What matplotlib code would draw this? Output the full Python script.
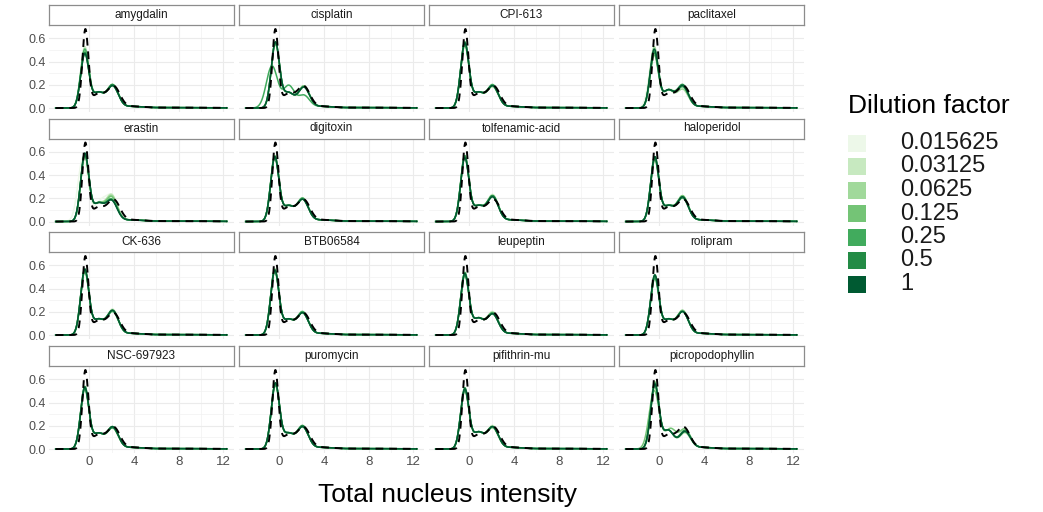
import numpy as np
import matplotlib
matplotlib.use("Agg")
import matplotlib.pyplot as plt
from matplotlib.patches import Rectangle

plt.rcParams['font.family'] = ['Liberation Sans', 'DejaVu Sans']

W, H = 1043, 512

drugs = ["amygdalin", "cisplatin", "CPI-613", "paclitaxel",
         "erastin", "digitoxin", "tolfenamic-acid", "haloperidol",
         "CK-636", "BTB06584", "leupeptin", "rolipram",
         "NSC-697923", "puromycin", "pifithrin-mu", "picropodophyllin"]

dilutions = ["0.015625", "0.03125", "0.0625", "0.125", "0.25", "0.5", "1"]
greens = ["#edf8e9", "#c7e9c0", "#a1d99b", "#74c476", "#41ab5d", "#238b45", "#005a32"]

# peak heights, one value per dilution (lightest -> darkest)
p1_height = [
    [0.50, 0.52, 0.48, 0.46, 0.50, 0.47, 0.46],
    [0.55, 0.56, 0.55, 0.54, 0.36, 0.55, 0.56],
    [0.55, 0.54, 0.56, 0.53, 0.55, 0.56, 0.55],
    [0.48, 0.50, 0.52, 0.45, 0.48, 0.47, 0.50],
    [0.55, 0.57, 0.56, 0.56, 0.57, 0.56, 0.58],
    [0.55, 0.54, 0.55, 0.56, 0.55, 0.54, 0.55],
    [0.55, 0.56, 0.54, 0.55, 0.56, 0.55, 0.54],
    [0.53, 0.55, 0.52, 0.54, 0.55, 0.53, 0.55],
    [0.55, 0.54, 0.56, 0.55, 0.54, 0.55, 0.56],
    [0.55, 0.54, 0.55, 0.56, 0.54, 0.55, 0.55],
    [0.52, 0.53, 0.50, 0.52, 0.53, 0.51, 0.52],
    [0.50, 0.49, 0.51, 0.50, 0.48, 0.50, 0.51],
    [0.52, 0.50, 0.53, 0.52, 0.51, 0.53, 0.52],
    [0.55, 0.54, 0.56, 0.55, 0.54, 0.55, 0.56],
    [0.50, 0.51, 0.49, 0.50, 0.52, 0.50, 0.51],
    [0.55, 0.52, 0.57, 0.50, 0.56, 0.54, 0.55],
]
p2_height = [
    [0.20, 0.21, 0.20, 0.21, 0.20, 0.21, 0.20],
    [0.19, 0.20, 0.19, 0.20, 0.12, 0.19, 0.19],
    [0.20, 0.20, 0.19, 0.20, 0.21, 0.20, 0.20],
    [0.18, 0.20, 0.17, 0.20, 0.19, 0.21, 0.20],
    [0.22, 0.24, 0.23, 0.22, 0.20, 0.19, 0.19],
    [0.20, 0.21, 0.20, 0.20, 0.21, 0.20, 0.20],
    [0.23, 0.24, 0.23, 0.22, 0.23, 0.23, 0.22],
    [0.22, 0.23, 0.22, 0.23, 0.22, 0.21, 0.22],
    [0.22, 0.23, 0.22, 0.22, 0.21, 0.22, 0.22],
    [0.20, 0.21, 0.20, 0.20, 0.21, 0.20, 0.20],
    [0.19, 0.21, 0.20, 0.19, 0.20, 0.19, 0.19],
    [0.21, 0.22, 0.21, 0.22, 0.21, 0.21, 0.21],
    [0.20, 0.20, 0.19, 0.20, 0.20, 0.19, 0.20],
    [0.20, 0.21, 0.20, 0.20, 0.20, 0.21, 0.20],
    [0.20, 0.21, 0.20, 0.19, 0.20, 0.20, 0.20],
    [0.16, 0.17, 0.15, 0.18, 0.16, 0.17, 0.16],
]
mid_height = [0.13, 0.13, 0.13, 0.15, 0.15, 0.13, 0.13, 0.13,
              0.13, 0.13, 0.14, 0.13, 0.13, 0.13, 0.14, 0.16]
p1_pos = [-0.4, -0.35, -0.4, -0.45, -0.4, -0.4, -0.4, -0.4,
          -0.4, -0.4, -0.4, -0.4, -0.4, -0.35, -0.4, -0.4]
p2_pos = [2.1, 2.2, 2.1, 2.1, 2.0, 2.1, 2.1, 2.1,
          2.1, 2.1, 2.1, 2.1, 2.1, 2.1, 2.1, 2.3]

# curves that clearly depart from the rest: (panel, dilution, p1 pos, p1 width, mid pos, mid height)
odd_curves = [(1, 4, -0.65, 0.5, 0.85, 0.19),
              (4, 0, -0.55, 0.45, 1.0, 0.16),
              (3, 0, -0.5, 0.42, 0.9, 0.15),
              (15, 3, -0.45, 0.45, 1.0, 0.17)]

# control (dashed) curve peaks
ctrl_peaks = [0.66, 0.12, 0.18]
ctrl_pos = [-0.35, 0.8, 2.2]
ctrl_width = [0.27, 0.6, 0.55]

x = np.linspace(-3, 12.3, 700)


def bump(h, m, s):
    return h * np.exp(-(x - m) ** 2 / (2 * s ** 2))


def tail():
    return bump(0.012, 3.8, 0.9) + bump(0.004, 7.5, 3.5)


def edge(y):
    # density fades to zero at the ends of the data range
    return y * np.clip((x + 3) / 0.6, 0, 1)


fig = plt.figure(figsize=(W / 100, H / 100), dpi=100)

col_left = [49, 239, 429, 619]
row_top = [5, 118.5, 232, 346]
pw, sh, ph = 185, 20, 87

for i, drug in enumerate(drugs):
    r, c = divmod(i, 4)
    L, T = col_left[c], row_top[r]

    ax = fig.add_axes([L / W, 1 - (T + sh + ph) / H, pw / W, ph / H])
    ax.patch.set_alpha(0)
    ax.set_xlim(-3.6, 12.95)
    ax.set_ylim(-0.034, 0.714)
    ax.set_xticks([0, 4, 8, 12]); ax.set_xticks([2, 6, 10], minor=True)
    ax.set_yticks([0, 0.2, 0.4, 0.6]); ax.set_yticks([0.1, 0.3, 0.5], minor=True)
    ax.grid(which="major", color="#ebebeb", lw=0.8)
    ax.grid(which="minor", color="#f2f2f2", lw=0.5)
    ax.set_axisbelow(True)
    for sp in ax.spines.values():
        sp.set_visible(False)
    ax.tick_params(which="both", length=0, labelsize=9, labelcolor="#4d4d4d", pad=2)
    if c == 0:
        ax.set_yticklabels(["0.0", "0.2", "0.4", "0.6"])
    else:
        ax.set_yticklabels([])
    if r == 3:
        ax.set_xticklabels(["0", "4", "8", "12"], fontsize=9.5)
    else:
        ax.set_xticklabels([])

    for k in range(7):
        pp, pwid, mp, mh = p1_pos[i], 0.37, 0.8, mid_height[i]
        for oc in odd_curves:
            if oc[0] == i and oc[1] == k:
                pp, pwid, mp, mh = oc[2], oc[3], oc[4], oc[5]
        y = bump(p1_height[i][k], pp, pwid) + bump(mh, mp, 0.5) \
            + bump(p2_height[i][k] - 0.015, p2_pos[i], 0.5) + tail()
        ax.plot(x, edge(y), color=greens[k], lw=1.1, zorder=3)

    yc = sum(bump(h, m, s) for h, m, s in zip(ctrl_peaks, ctrl_pos, ctrl_width)) + tail()
    ax.plot(x, edge(yc), color="black", lw=1.4, ls=(0, (4, 3)), zorder=4)

    sax = fig.add_axes([L / W, 1 - (T + sh) / H, pw / W, sh / H])
    sax.set_xticks([]); sax.set_yticks([])
    for sp in sax.spines.values():
        sp.set_color("#8c8c8c"); sp.set_linewidth(0.9)
    sax.text(0.5, 0.5, drug, ha="center", va="center", fontsize=8.5, color="#1a1a1a")

fig.text(448 / W, 1 - 495 / H, "Total nucleus intensity", ha="center", va="center",
         fontsize=19, color="black")

# legend
fig.text(848 / W, 1 - 106 / H, "Dilution factor", ha="left", va="center", fontsize=19)
key_y = [143, 166.5, 190, 213.5, 237, 260.5, 284]
for k in range(7):
    fig.patches.append(Rectangle((848 / W, 1 - (key_y[k] + 8.5) / H), 18 / W, 17 / H,
                                 transform=fig.transFigure, facecolor=greens[k],
                                 edgecolor="none"))
    fig.text(900 / W, 1 - key_y[k] / H, dilutions[k], ha="left", va="center",
             fontsize=17, color="#1a1a1a")

fig.savefig("out.png", dpi=100)
